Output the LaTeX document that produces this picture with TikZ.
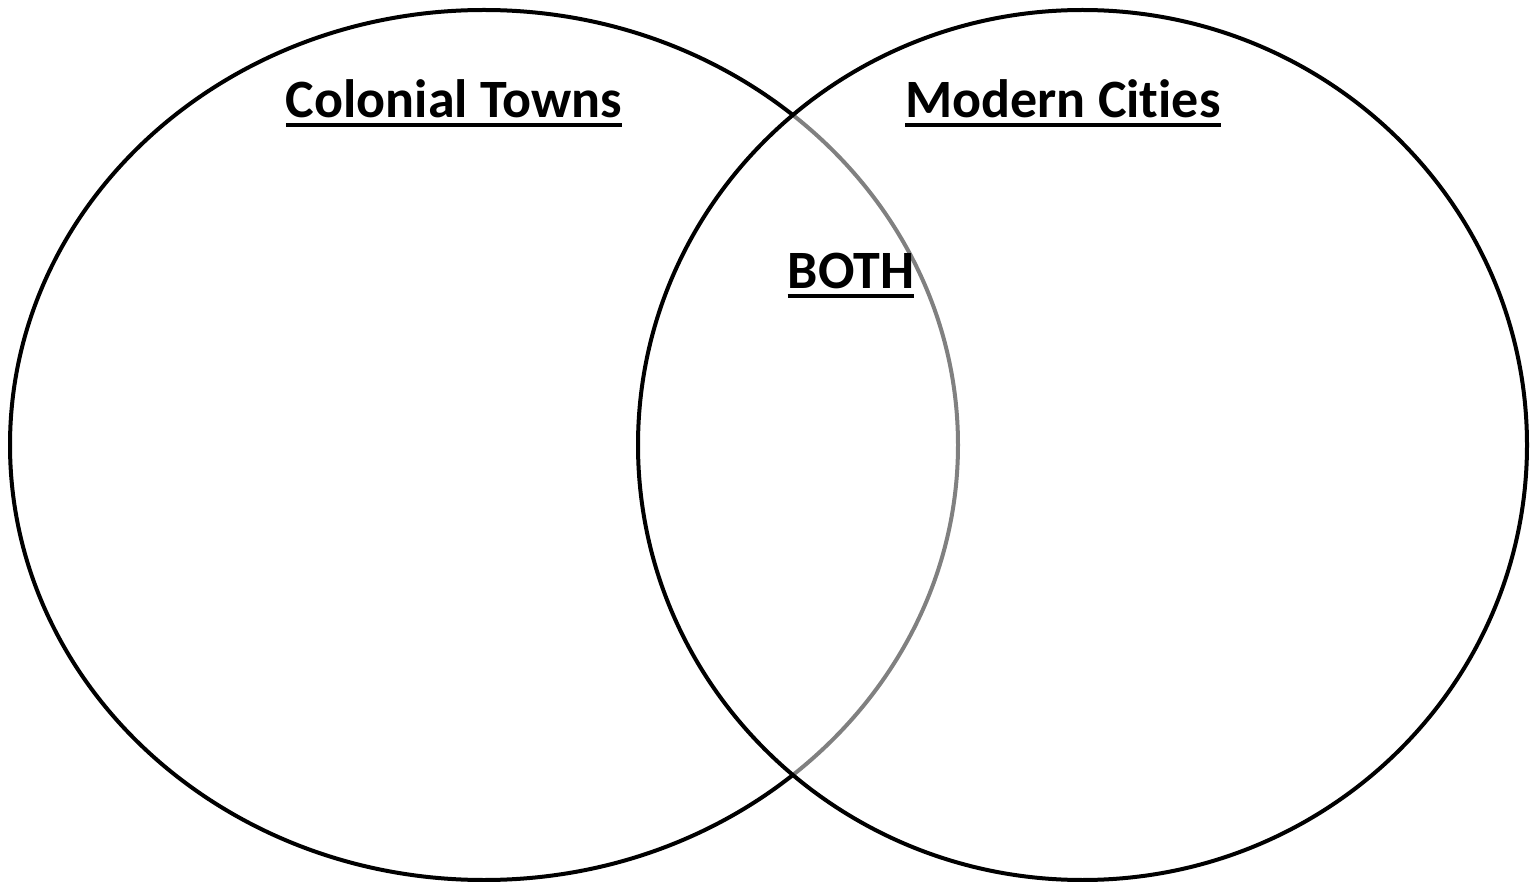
\documentclass[tikz,border=0pt]{standalone}
\usepackage{fontspec}
\setmainfont[Ligatures={NoCommon}]{Carlito}
\usetikzlibrary{shapes.geometric}
\begin{document}
\begin{tikzpicture}[x=1pt,y=-1pt,
  ring/.style={draw=black,line width=4pt,ellipse,inner sep=0pt},
  title/.style={font=\fontsize{54}{60}\selectfont\bfseries,inner sep=0pt,anchor=base},
  uline/.style={line width=4pt}]
\useasboundingbox (0,0) rectangle (1540,882);
\node[ring,minimum width=948pt,minimum height=870pt] (left) at (484,445) {};
\path[fill=white,fill opacity=0.5] (1082.5,445) ellipse [x radius=444.5, y radius=435];
\node[ring,minimum width=889pt,minimum height=870pt] (right) at (1082.5,445) {};
\node[title] (ct) at (454,118) {Colonial Towns};
\node[title] (mc) at (1063,118) {Modern Cities};
\node[title] (both) at (851,289) {BOTH};
\foreach \n in {ct,mc,both}
  \draw[uline] ([yshift=-7pt]\n.base west) -- ([yshift=-7pt]\n.base east);
\end{tikzpicture}
\end{document}
